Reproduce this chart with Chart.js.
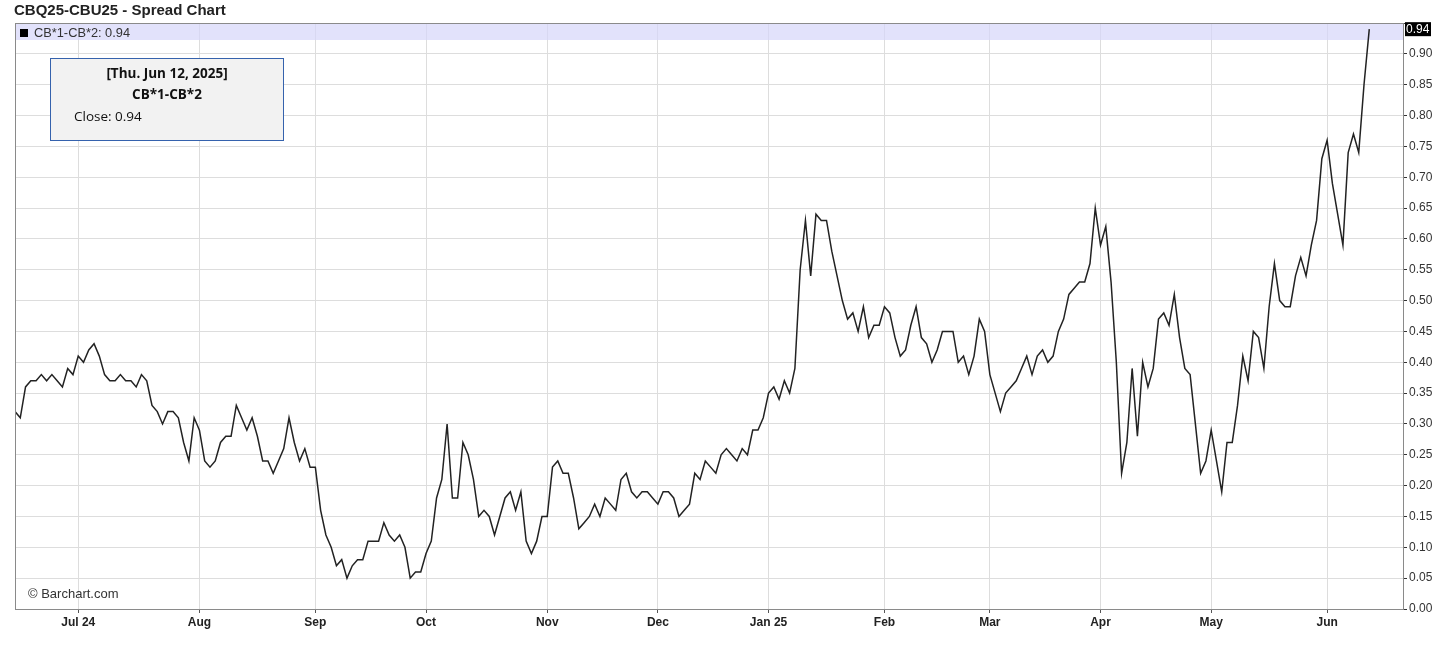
<!DOCTYPE html>
<html>
<head>
<meta charset="utf-8">
<title>CBQ25-CBU25 - Spread Chart</title>
<script src="https://cdn.jsdelivr.net/npm/chart.js@4.4.1/dist/chart.umd.min.js"></script>
<style>
  body { margin: 0; background: #fff; font-family: "Liberation Sans", Arial, sans-serif; }
  #wrap { position: relative; width: 1456px; height: 646px; }
  #title { position: absolute; left: 14px; top: 1px; font-size: 15px; font-weight: bold; color: #222; }
  #legend { position: absolute; left: 20px; top: 25px; font-size: 12.8px; color: #333; line-height: 16px; }
  #legend span { display: inline-block; width: 8px; height: 8px; background: #000; margin-right: 6px; }
  #tip { position: absolute; left: 50px; top: 58px; width: 232px; height: 81px; background: #f2f2f2;
         border: 1px solid #3562ad; font-family: "Open Sans", "Noto Sans", sans-serif; font-size: 13.5px; color: #111; }
  #tip .h { text-align: center; font-weight: bold; position: absolute; left: 0; right: 0; }
  #tip .c { position: absolute; left: 23px; top: 48px; }
  #credit { position: absolute; left: 28px; top: 586px; font-size: 13px; color: #333; }
</style>
</head>
<body>
<div id="wrap">
  <canvas id="chart" width="1456" height="646"></canvas>
  <div id="title">CBQ25-CBU25 - Spread Chart</div>
  <div id="legend"><span></span>CB*1-CB*2: 0.94</div>
  <div id="tip">
    <div class="h" style="top:5px">[Thu. Jun 12, 2025]</div>
    <div class="h" style="top:26px">CB*1-CB*2</div>
    <div class="c">Close: 0.94</div>
  </div>
  <div id="credit">© Barchart.com</div>
</div>
<script>
// daily close of the spread, Jun 2024 -> Jun 12 2025 (one value per trading day)
const spread = [
  0.32, 0.31, 0.36, 0.37, 0.37, 0.38, 0.37, 0.38, 0.37, 0.36,
  0.39, 0.38, 0.41, 0.40, 0.42, 0.43, 0.41, 0.38, 0.37, 0.37,
  0.38, 0.37, 0.37, 0.36, 0.38, 0.37, 0.33, 0.32, 0.30, 0.32,
  0.32, 0.31, 0.27, 0.24, 0.31, 0.29, 0.24, 0.23, 0.24, 0.27,
  0.28, 0.28, 0.33, 0.31, 0.29, 0.31, 0.28, 0.24, 0.24, 0.22,
  0.24, 0.26, 0.31, 0.27, 0.24, 0.26, 0.23, 0.23, 0.16, 0.12,
  0.10, 0.07, 0.08, 0.05, 0.07, 0.08, 0.08, 0.11, 0.11, 0.11,
  0.14, 0.12, 0.11, 0.12, 0.10, 0.05, 0.06, 0.06, 0.09, 0.11,
  0.18, 0.21, 0.30, 0.18, 0.18, 0.27, 0.25, 0.21, 0.15, 0.16,
  0.15, 0.12, 0.15, 0.18, 0.19, 0.16, 0.19, 0.11, 0.09, 0.11,
  0.15, 0.15, 0.23, 0.24, 0.22, 0.22, 0.18, 0.13, 0.14, 0.15,
  0.17, 0.15, 0.18, 0.17, 0.16, 0.21, 0.22, 0.19, 0.18, 0.19,
  0.19, 0.18, 0.17, 0.19, 0.19, 0.18, 0.15, 0.16, 0.17, 0.22,
  0.21, 0.24, 0.23, 0.22, 0.25, 0.26, 0.25, 0.24, 0.26, 0.25,
  0.29, 0.29, 0.31, 0.35, 0.36, 0.34, 0.37, 0.35, 0.39, 0.55,
  0.63, 0.54, 0.64, 0.63, 0.63, 0.58, 0.54, 0.50, 0.47, 0.48,
  0.45, 0.49, 0.44, 0.46, 0.46, 0.49, 0.48, 0.44, 0.41, 0.42,
  0.46, 0.49, 0.44, 0.43, 0.40, 0.42, 0.45, 0.45, 0.45, 0.40,
  0.41, 0.38, 0.41, 0.47, 0.45, 0.38, 0.35, 0.32, 0.35, 0.36,
  0.37, 0.39, 0.41, 0.38, 0.41, 0.42, 0.40, 0.41, 0.45, 0.47,
  0.51, 0.52, 0.53, 0.53, 0.56, 0.65, 0.59, 0.62, 0.53, 0.40,
  0.22, 0.27, 0.39, 0.28, 0.40, 0.36, 0.39, 0.47, 0.48, 0.46,
  0.51, 0.44, 0.39, 0.38, 0.30, 0.22, 0.24, 0.29, 0.24, 0.19,
  0.27, 0.27, 0.33, 0.41, 0.37, 0.45, 0.44, 0.39, 0.49, 0.56,
  0.50, 0.49, 0.49, 0.54, 0.57, 0.54, 0.59, 0.63, 0.73, 0.76,
  0.69, 0.64, 0.59, 0.74, 0.77, 0.74, 0.85, 0.94
];

// month grid lines: trading-day index where each month starts
const monthIdx = [12, 35, 57, 78, 101, 122, 143, 165, 185, 206, 227, 249];
const monthLabels = ['Jul 24', 'Aug', 'Sep', 'Oct', 'Nov', 'Dec', 'Jan 25', 'Feb', 'Mar', 'Apr', 'May', 'Jun'];

const yMin = 0, yMax = 0.95, yStep = 0.05;
const xMax = 263.4;
const lastLabel = '0.94';

const frame = {
  id: 'frame',
  beforeDatasetsDraw(chart) {
    const { ctx, chartArea: a } = chart;
    ctx.save();
    ctx.fillStyle = 'rgba(214,214,250,0.7)';
    ctx.fillRect(a.left, a.top, a.right - a.left, 17);
    ctx.restore();
  },
  afterDraw(chart) {
    const { ctx, chartArea: a } = chart;
    ctx.save();
    ctx.strokeStyle = '#8a8a8a';
    ctx.lineWidth = 1;
    ctx.strokeRect(a.left + 0.5, a.top + 0.5, a.right - a.left, a.bottom - a.top);
    // last value badge on the price axis
    const y = chart.scales.y.getPixelForValue(spread[spread.length - 1]);
    ctx.fillStyle = '#000';
    ctx.fillRect(a.right + 2, y - 7, 26, 14);
    ctx.fillStyle = '#fff';
    ctx.font = '12px "Liberation Sans", Arial, sans-serif';
    ctx.textBaseline = 'middle';
    ctx.fillText(lastLabel, a.right + 3, y + 0.5);
    ctx.restore();
  }
};

new Chart(document.getElementById('chart'), {
  type: 'line',
  data: {
    datasets: [{
      label: 'CB*1-CB*2',
      data: spread.map((v, i) => ({ x: i, y: v })),
      borderColor: '#222',
      borderWidth: 1.5,
      pointRadius: 0,
      tension: 0,
      fill: false
    }]
  },
  options: {
    responsive: false,
    animation: false,
    devicePixelRatio: 1,
    layout: { padding: { left: 15, top: 23, right: 0, bottom: 0 } },
    plugins: { legend: { display: false }, tooltip: { enabled: false } },
    scales: {
      x: {
        type: 'linear',
        min: 0,
        max: xMax,
        afterBuildTicks: axis => { axis.ticks = monthIdx.map(v => ({ value: v })); },
        afterFit: axis => { axis.height = 37; },
        ticks: {
          autoSkip: false,
          maxRotation: 0,
          padding: 2,
          color: '#222',
          font: { family: '"Liberation Sans", Arial, sans-serif', size: 12, weight: 'bold' },
          callback: (v, i) => monthLabels[i]
        },
        grid: { color: '#dddddd', lineWidth: 1, tickLength: 4, tickColor: '#555' },
        border: { color: '#8a8a8a' }
      },
      y: {
        position: 'right',
        min: yMin,
        max: yMax,
        afterFit: axis => { axis.width = 53; },
        ticks: {
          stepSize: yStep,
          padding: 2,
          color: '#333',
          font: { family: '"Liberation Sans", Arial, sans-serif', size: 12 },
          callback: v => (v > 0.94 ? '' : v.toFixed(2))
        },
        grid: { color: '#dddddd', lineWidth: 1, tickLength: 4, tickColor: '#333' },
        border: { color: '#8a8a8a' }
      }
    }
  },
  plugins: [frame]
});
</script>
</body>
</html>
